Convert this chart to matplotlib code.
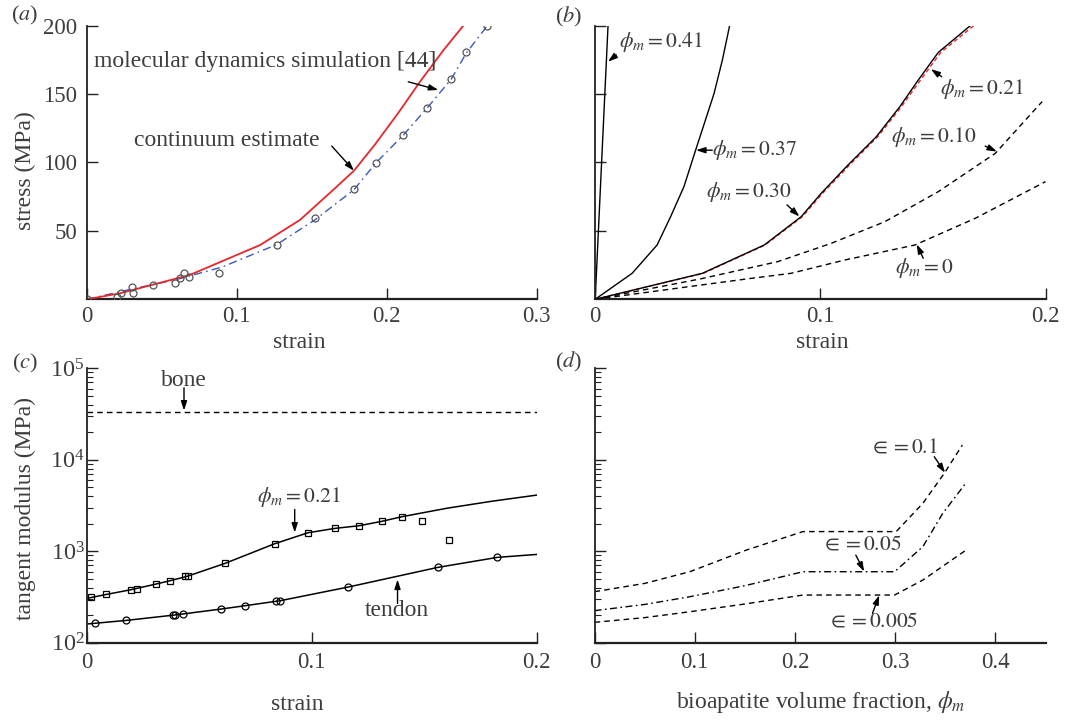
import matplotlib
matplotlib.use("Agg")
import matplotlib.pyplot as plt
from matplotlib.ticker import FuncFormatter, NullFormatter, LogLocator

# ---------------- data ----------------
# (a) stress-strain, comparison with MD simulation
a_red_strain = [0, 0.0222, 0.0687, 0.1156, 0.1421, 0.1643, 0.1781, 0.192, 0.2075, 0.2221, 0.2377, 0.251]
a_red_stress = [0, 4.4, 17.8, 39.7, 58, 80, 94, 113, 136, 159, 182, 200]
a_blue_strain = [0, 0.03, 0.06, 0.09, 0.1266, 0.152, 0.178, 0.193, 0.211, 0.227, 0.243, 0.253, 0.267]
a_blue_stress = [0, 7.5, 14.5, 23.5, 40, 58, 80, 100, 120, 140, 161, 180, 200]
a_md_strain = [0, 0.0204, 0.0226, 0.0299, 0.031, 0.0444, 0.0588, 0.0621, 0.0648, 0.0681, 0.0884,
               0.1266, 0.152, 0.178, 0.193, 0.211, 0.227, 0.243, 0.253, 0.267]
a_md_stress = [0, 1.5, 4.4, 8.8, 4.8, 10.2, 12.2, 15.3, 19, 16.5, 19.5,
               40, 59.4, 80.4, 99.9, 120, 140, 161, 180.5, 200]

# (b) stress-strain for several bioapatite fractions
b41_strain = [0, 0.0027, 0.0057]
b41_stress = [0, 95, 200]
b37_strain = [0, 0.0164, 0.0275, 0.0335, 0.0394, 0.0446, 0.0528, 0.0565, 0.0597]
b37_stress = [0, 19, 39.7, 60.4, 82.3, 109, 150.5, 175, 200]
b30_strain = [0, 0.0476, 0.0751, 0.0915, 0.1004, 0.1123, 0.1249, 0.1353, 0.1435, 0.1524, 0.1666]
b30_stress = [0, 19, 39.7, 60.4, 77.5, 98.2, 118.9, 140.8, 160.3, 180.5, 200]
b21_strain = [0, 0.048, 0.0755, 0.092, 0.101, 0.113, 0.1255, 0.136, 0.1445, 0.1535, 0.1681]
b21_stress = [0, 19, 39.7, 60.4, 77.5, 98.2, 118.9, 140.8, 160.3, 180.5, 200]
b10_strain = [0, 0.047, 0.081, 0.1048, 0.1286, 0.1524, 0.1777, 0.1985]
b10_stress = [0, 15, 27.5, 40.9, 56.7, 78.7, 106.7, 144.5]
b00_strain = [0, 0.045, 0.0692, 0.087, 0.1108, 0.142, 0.1688, 0.2]
b00_stress = [0, 10, 15.3, 19, 28.7, 39.7, 59.2, 86]

# (c) tangent modulus vs strain
c_bone_strain = [0, 0.2]
c_bone_mod = [33000, 33000]
c21_line_strain = [0, 0.0087, 0.0197, 0.0308, 0.037, 0.0445, 0.0614, 0.0835, 0.0983, 0.1103,
                   0.1211, 0.131, 0.14, 0.16, 0.18, 0.2]
c21_line_mod = [305, 337, 380, 438, 476, 531, 736, 1208, 1592, 1778, 1901, 2120, 2383, 2950, 3520, 4110]
c21_pts_strain = [0.0017, 0.0087, 0.0197, 0.0222, 0.0308, 0.037, 0.0437, 0.0452, 0.0614, 0.0835,
                  0.0983, 0.1103, 0.1211, 0.131, 0.14, 0.1489, 0.1608]
c21_pts_mod = [315, 337, 380, 389, 438, 476, 531, 531, 736, 1208, 1592, 1778, 1901, 2120, 2383, 2152, 1324]
ct_line_strain = [0, 0.0035, 0.0173, 0.0392, 0.0595, 0.0705, 0.086, 0.1162, 0.1559, 0.1825, 0.2]
ct_line_mod = [160, 163, 175, 201, 233, 254, 288, 406, 665, 857, 923]
ct_pts_strain = [0.0035, 0.0173, 0.0383, 0.0392, 0.0429, 0.0595, 0.0705, 0.0841, 0.086, 0.1162, 0.1559, 0.1825]
ct_pts_mod = [163, 175, 201, 201, 206, 233, 254, 283, 288, 406, 665, 857]

# (d) tangent modulus vs bioapatite volume fraction
d1_phi = [0, 0.05, 0.095, 0.1516, 0.208, 0.301, 0.3276, 0.349, 0.367]
d1_mod = [361, 445, 597, 1031, 1640, 1640, 3340, 7110, 14500]
d05_phi = [0, 0.05, 0.095, 0.15, 0.208, 0.2994, 0.3276, 0.3475, 0.3708]
d05_mod = [224, 262, 318, 420, 597, 597, 1122, 2600, 5610]
d005_phi = [0, 0.05, 0.095, 0.15, 0.208, 0.2994, 0.3276, 0.3708]
d005_mod = [167, 188, 218, 265, 332, 332, 484, 1031]

# ---------------- style ----------------
TXT = "#3d3d3d"
plt.rcParams.update({
    "font.family": ["Liberation Serif", "DejaVu Serif"],
    "mathtext.fontset": "stix",
    "text.color": TXT,
    "axes.labelcolor": TXT,
    "xtick.color": "#222222",
    "ytick.color": "#222222",
    "xtick.labelcolor": TXT,
    "ytick.labelcolor": TXT,
})
FS_TICK = 16.5
FS_TXT = 17
FS_MATH = 15.6

W, H = 1065, 722
fig = plt.figure(figsize=(W / 100, H / 100), dpi=100)


def rect(x0, x1, ytop, ybot):
    return [x0 / W, 1 - ybot / H, (x1 - x0) / W, (ybot - ytop) / H]


A_Y0, A_Y1 = 25.7, 299.3
C_Y0, C_Y1 = 368.3, 642.7
axa = fig.add_axes(rect(86.8, 536.8, A_Y0, A_Y1))
axb = fig.add_axes(rect(595.2, 1045.5, A_Y0, A_Y1))
axc = fig.add_axes(rect(86.8, 536.8, C_Y0, C_Y1))
axd = fig.add_axes(rect(594.6, 1045.5, C_Y0, C_Y1))

for ax in (axa, axb, axc, axd):
    for s in ("top", "right"):
        ax.spines[s].set_visible(False)
    ax.spines["left"].set_linewidth(1.3)
    ax.spines["bottom"].set_linewidth(1.6)
    ax.spines["left"].set_color("#222222")
    ax.spines["bottom"].set_color("#222222")
    ax.tick_params(which="major", direction="in", length=8, width=1.0, labelsize=FS_TICK)
    ax.tick_params(which="minor", direction="in", length=4, width=0.8)
    ax.tick_params(axis="x", pad=5)

fmt0 = FuncFormatter(lambda v, p: "0" if abs(v) < 1e-12 else f"{v:g}")
ARW = dict(arrowstyle="-|>,head_length=0.55,head_width=0.18", color="black", lw=1.0,
           shrinkA=0, shrinkB=0)


def place_xlabel(ax, xpix, ypix, x0, x1, y0, y1):
    ax.xaxis.set_label_coords((xpix - x0) / (x1 - x0), (y1 - ypix) / (y1 - y0))
    ax.xaxis.label.set_verticalalignment("center")


def place_ylabel(ax, xpix, ypix, x0, x1, y0, y1):
    ax.yaxis.set_label_coords((xpix - x0) / (x1 - x0), (y1 - ypix) / (y1 - y0))
    ax.yaxis.label.set_horizontalalignment("center")
    ax.yaxis.label.set_verticalalignment("center")


# ---- (a) ----
axa.plot(a_red_strain, a_red_stress, color="#e8262b", lw=1.3, zorder=3)
axa.plot(a_blue_strain, a_blue_stress, color="#3a59b8", lw=1.0, dashes=(6, 3, 1.2, 3), zorder=2)
axa.plot(a_md_strain, a_md_stress, ls="none", marker="o", ms=5, mfc="none", mec="#555555", mew=0.9, zorder=4)
axa.set_xlim(0, 0.3)
axa.set_ylim(0, 200)
axa.set_xticks([0, 0.1, 0.2, 0.3])
axa.set_yticks([50, 100, 150, 200])
axa.xaxis.set_major_formatter(fmt0)
axa.tick_params(axis="y", pad=7)
axa.set_ylabel("stress (MPa)", fontsize=FS_TXT)
place_ylabel(axa, 25, 170.8, 86.8, 536.8, A_Y0, A_Y1)
axa.set_xlabel("strain", fontsize=FS_TXT)
place_xlabel(axa, 299, 343, 86.8, 536.8, A_Y0, A_Y1)
axa.text(0.005, 174, "molecular dynamics simulation [44]", fontsize=FS_TXT, va="center", ha="left")
axa.annotate("", xy=(0.2343, 153), xytext=(0.2143, 159), arrowprops=ARW)
axa.text(0.0314, 116.4, "continuum estimate", fontsize=FS_TXT, va="center", ha="left")
axa.annotate("", xy=(0.1781, 94), xytext=(0.1633, 112), arrowprops=ARW)

# ---- (b) ----
axb.plot(b41_strain, b41_stress, color="black", lw=1.0)
axb.plot(b37_strain, b37_stress, color="black", lw=1.0)
axb.plot(b30_strain, b30_stress, color="black", lw=1.0, zorder=3)
axb.plot(b21_strain, b21_stress, color="#e8262b", lw=1.0, dashes=(3, 2), zorder=2)
axb.plot(b10_strain, b10_stress, color="black", lw=1.0, dashes=(4, 3))
axb.plot(b00_strain, b00_stress, color="black", lw=1.0, dashes=(4, 3))
axb.set_xlim(0, 0.2)
axb.set_ylim(0, 200)
axb.set_xticks([0, 0.1, 0.2])
axb.set_yticks([50, 100, 150, 200])
axb.xaxis.set_major_formatter(fmt0)
axb.yaxis.set_major_formatter(NullFormatter())
axb.set_xlabel("strain", fontsize=FS_TXT)
place_xlabel(axb, 822, 343, 595.2, 1045.5, A_Y0, A_Y1)
axb.text(0.0104, 188.3, r"$\phi_m = 0.41$", fontsize=FS_MATH, va="center", ha="left")
axb.annotate("", xy=(0.0057, 173.7), xytext=(0.0094, 178.6), arrowprops=ARW)
axb.text(0.052, 109, r"$\phi_m = 0.37$", fontsize=FS_MATH, va="center", ha="left")
axb.annotate("", xy=(0.0448, 109), xytext=(0.052, 109), arrowprops=ARW)
axb.text(0.049, 78.7, r"$\phi_m = 0.30$", fontsize=FS_MATH, va="center", ha="left")
axb.annotate("", xy=(0.0907, 60.5), xytext=(0.0852, 69), arrowprops=ARW)
axb.text(0.1532, 154, r"$\phi_m = 0.21$", fontsize=FS_MATH, va="center", ha="left")
axb.annotate("", xy=(0.1491, 168.3), xytext=(0.1539, 162.7), arrowprops=ARW)
axb.text(0.1316, 118.9, r"$\phi_m = 0.10$", fontsize=FS_MATH, va="center", ha="left")
axb.annotate("", xy=(0.1784, 108), xytext=(0.1732, 112), arrowprops=ARW)
axb.text(0.1331, 22.7, r"$\phi_m = 0$", fontsize=FS_MATH, va="center", ha="left")
axb.annotate("", xy=(0.1428, 40.2), xytext=(0.1457, 30), arrowprops=ARW)

# ---- (c) ----
axc.set_yscale("log")
axc.plot(c_bone_strain, c_bone_mod, color="black", lw=1.0, dashes=(4, 3))
axc.plot(c21_line_strain, c21_line_mod, color="black", lw=1.1)
axc.plot(c21_pts_strain, c21_pts_mod, ls="none", marker="s", ms=4, mfc="none", mec="black", mew=0.9)
axc.plot(ct_line_strain, ct_line_mod, color="black", lw=1.1)
axc.plot(ct_pts_strain, ct_pts_mod, ls="none", marker="o", ms=5, mfc="none", mec="black", mew=0.9)
axc.set_xlim(0, 0.2)
axc.set_ylim(1e2, 1e5)
axc.set_xticks([0, 0.1, 0.2])
axc.xaxis.set_major_formatter(fmt0)
axc.yaxis.set_major_locator(LogLocator(base=10, numticks=10))
axc.yaxis.set_minor_locator(LogLocator(base=10, subs=range(2, 10), numticks=20))
axc.yaxis.set_minor_formatter(NullFormatter())
axc.tick_params(axis="y", which="major", pad=1.5, labelsize=17.5)
axc.tick_params(axis="x", pad=6.5)
axc.set_ylabel("tangent modulus (MPa)", fontsize=FS_TXT)
place_ylabel(axc, 25, 509, 86.8, 536.8, C_Y0, C_Y1)
axc.set_xlabel("strain", fontsize=FS_TXT)
place_xlabel(axc, 297, 705, 86.8, 536.8, C_Y0, C_Y1)
axc.text(0.0432, 74300, "bone", fontsize=FS_TXT, va="center", ha="center")
axc.annotate("", xy=(0.0432, 34500), xytext=(0.0432, 61200), arrowprops=ARW)
axc.text(0.0757, 3945, r"$\phi_m = 0.21$", fontsize=FS_MATH, va="center", ha="left")
axc.annotate("", xy=(0.0924, 1600), xytext=(0.0924, 2865), arrowprops=ARW)
axc.text(0.1376, 227, "tendon", fontsize=FS_TXT, va="center", ha="center")
axc.annotate("", xy=(0.1381, 490), xytext=(0.1381, 269), arrowprops=ARW)

# ---- (d) ----
axd.set_yscale("log")
axd.plot(d1_phi, d1_mod, color="black", lw=1.0, dashes=(4, 3))
axd.plot(d05_phi, d05_mod, color="black", lw=1.0, dashes=(5, 2.5, 1.2, 2.5))
axd.plot(d005_phi, d005_mod, color="black", lw=1.0, dashes=(4, 3))
axd.set_xlim(0, 0.45)
axd.set_ylim(1e2, 1e5)
axd.set_xticks([0, 0.1, 0.2, 0.3, 0.4])
axd.xaxis.set_major_formatter(fmt0)
axd.yaxis.set_major_locator(LogLocator(base=10, numticks=10))
axd.yaxis.set_minor_locator(LogLocator(base=10, subs=range(2, 10), numticks=20))
axd.yaxis.set_major_formatter(NullFormatter())
axd.yaxis.set_minor_formatter(NullFormatter())
axd.tick_params(axis="x", pad=6.5)
axd.set_xlabel(r"bioapatite volume fraction, $\phi_m$", fontsize=FS_TXT)
place_xlabel(axd, 821, 702, 594.6, 1045.5, C_Y0, C_Y1)
axd.text(0.274, 13300, r"$\in = 0.1$", fontsize=FS_MATH, va="center", ha="left")
axd.annotate("", xy=(0.3497, 7210), xytext=(0.339, 10800), arrowprops=ARW)
axd.text(0.2257, 1167, r"$\in = 0.05$", fontsize=FS_MATH, va="center", ha="left")
axd.annotate("", xy=(0.269, 600), xytext=(0.2607, 908), arrowprops=ARW)
axd.text(0.2317, 170, r"$\in = 0.005$", fontsize=FS_MATH, va="center", ha="left")
axd.annotate("", xy=(0.284, 330), xytext=(0.2773, 209), arrowprops=ARW)

# panel labels
for lab, x, y in (("a", 10.7, 15), ("b", 555, 17), ("c", 12.5, 363), ("d", 555, 362)):
    fig.text(x / W, 1 - y / H, "(" + r"$\mathit{" + lab + "}$" + ")", fontsize=16, va="center", ha="left")

fig.savefig("out.png", dpi=100)
